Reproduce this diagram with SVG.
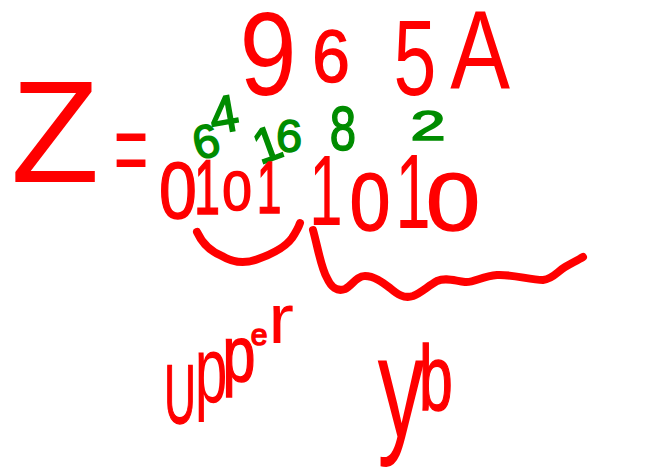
<svg xmlns="http://www.w3.org/2000/svg" width="645" height="469" viewBox="0 0 645 469">
<style>
.r{fill:#ff0000;font-family:"Liberation Sans",Arial,sans-serif;text-anchor:middle}
.rs{stroke:#ff0000;stroke-width:1.5}
.g{fill:#008c00;stroke:#008c00;stroke-width:1.5;font-family:"Liberation Sans",Arial,sans-serif;text-anchor:middle}
.b{fill:none;stroke:#ff0000;stroke-width:8;stroke-linecap:round;stroke-linejoin:round}
</style>
<rect width="645" height="469" fill="#ffffff"/>
<g id="z-label">
<text class="r" font-size="145" transform="translate(55,182)">Z</text>
<text class="r" font-size="104" transform="translate(131,184) scale(0.57,1)">=</text>
</g>
<g id="hex-top">
<text class="r" font-size="118" transform="translate(268,95) scale(0.87,1)">9</text>
<text class="r rs" font-size="75" transform="translate(331,82) scale(0.9,1)">6</text>
<text class="r" font-size="107" transform="translate(415,95) scale(0.72,1)">5</text>
<text class="r" font-size="112" transform="translate(480,88) scale(0.8,1)">A</text>
</g>
<g id="weights">
<text class="g" font-size="47" transform="translate(210,157) rotate(-15)">6</text>
<text class="g" font-size="52" transform="translate(227,132) rotate(-10)">4</text>
<text class="g" font-size="49" transform="translate(273,160) rotate(-20)">1</text>
<text class="g" font-size="47" transform="translate(289,152)">6</text>
<text class="g" font-size="63" transform="translate(343,150) scale(0.75,1)">8</text>
<text class="g" font-size="42" transform="translate(428,140) scale(1.5,1)">2</text>
</g>
<g id="binary">
<text class="r rs" font-size="80" transform="translate(178,218) scale(0.85,1)">0</text>
<text class="r rs" font-size="77" transform="translate(207,214) scale(0.6,1)">1</text>
<text class="r rs" font-size="56" transform="translate(237,210) scale(0.95,1)">0</text>
<text class="r rs" font-size="74" transform="translate(269,213) scale(0.6,1)">1</text>
<text class="r" font-size="100" transform="translate(326,225) scale(0.6,1)">1</text>
<text class="r rs" font-size="81" transform="translate(370,230) scale(0.9,1)">0</text>
<text class="r" font-size="105" transform="translate(413,228) scale(0.6,1)">1</text>
<text class="r rs" font-size="81" transform="translate(453,230) scale(1.2,1)">0</text>
</g>
<g id="braces">
<path class="b" d="M197,232 C203,245 212,252 222,256 C232,262 245,264 258,259 C272,254 285,248 292,238 C296,232 299,226 300,223"/>
<path class="b" d="M313,230 C318,248 321,268 327,278 C331,287 337,292 345,289 C352,286 356,276 365,276 C374,276 382,282 390,288 C397,294 404,299 413,296 C421,293 428,286 437,281 C446,277 455,281 465,282 C474,283 482,276 497,275 C512,274 530,280 543,280 C553,279 558,271 565,267 C572,263 578,260 583,257"/>
</g>
<g id="upper-label">
<text class="r rs" font-size="84" transform="translate(180,423) scale(0.52,1)">U</text>
<text class="r" font-size="95" transform="translate(211,402) scale(0.62,1)">p</text>
<text class="r rs" font-size="78" transform="translate(239,381) scale(0.76,1)">p</text>
<text class="r rs" font-size="30" transform="translate(259,345)">e</text>
<text class="r" font-size="70" transform="translate(281,343) scale(1.1,1)">r</text>
</g>
<g id="lower-label">
<text class="r" font-size="145" transform="translate(401,437) scale(0.65,1)">y</text>
<text class="r rs" font-size="92" transform="translate(436,410) scale(0.66,1)">b</text>
</g>
</svg>
